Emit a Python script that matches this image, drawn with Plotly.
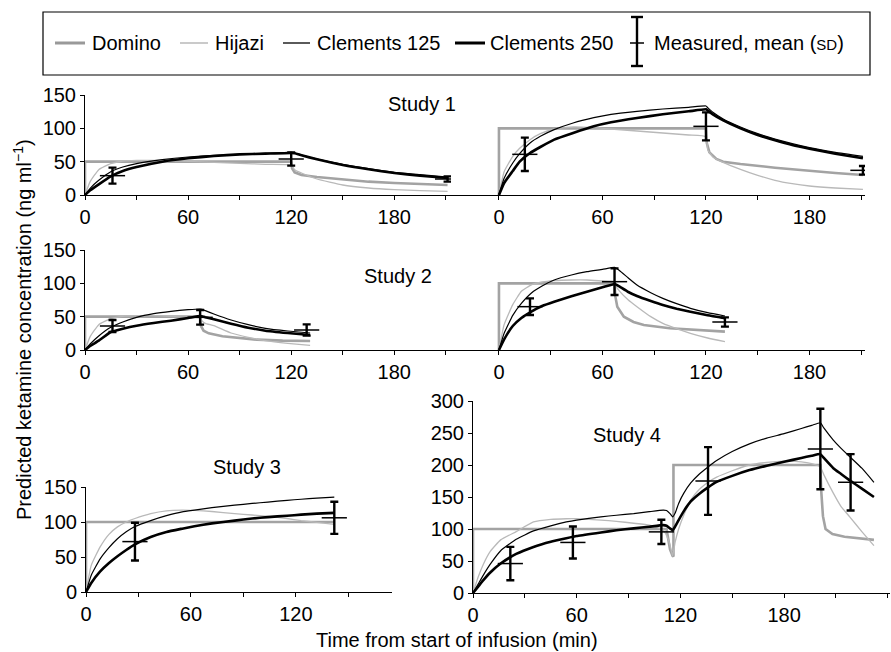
import plotly.graph_objects as go

W, H = 891, 652

# ---------------- Study 1, 50 ng/ml target (left) ----------------
S1L_T = [0, 3, 8, 15, 22, 30, 45, 60, 75, 90, 105, 120, 122, 126, 135, 150, 165, 180, 195, 211]
S1L_HIJ = [0, 20, 38, 47, 51, 52, 52, 50.5, 49, 47.5, 46, 45, 38, 33, 24, 15, 10.5, 8, 6.5, 5.5]
S1L_C125 = [0, 10, 22, 35, 42, 47, 53, 57, 59.5, 61, 62.5, 64, 63, 60, 54, 46, 39.5, 34, 30.5, 27]
S1L_C250 = [0, 7, 16, 28, 36, 42, 50, 55, 58.5, 61, 62, 63, 62.5, 59.5, 53.5, 45, 38.5, 33, 29, 25.5]
S1L_DOM_T = [0, 0, 120, 120.5, 122, 126, 135, 150, 165, 180, 195, 211]
S1L_DOM_V = [0, 50, 50, 40, 34, 30, 27, 23, 20, 18, 16.5, 15]
S1L_MEAS_T = [16, 120, 211]
S1L_MEAS_M = [29, 54, 24]
S1L_MEAS_SD = [12, 10, 4]

# ---------------- Study 1, 100 ng/ml target (right) ----------------
S1R_T = [0, 3, 8, 12, 18, 24, 32, 43, 55, 65, 80, 95, 110, 120, 121, 124, 130, 140, 150, 160, 170, 180, 195, 211]
S1R_HIJ = [0, 35, 58, 70, 83, 92, 99, 102, 101, 99, 96, 93, 90, 87.5, 68, 57, 49, 38.5, 29.5, 22, 17, 13.5, 10.5, 8.5]
S1R_C125 = [0, 25, 48, 62, 78, 88, 98, 108, 116, 121, 125.5, 129, 131.5, 133.5, 131, 124, 114, 102, 92, 84, 77, 71, 64, 58]
S1R_C250 = [0, 18, 36, 50, 63, 72, 83, 93, 103, 109, 115.5, 121, 125.5, 128.5, 127, 121, 112, 100, 90, 82, 75, 69.5, 62, 55]
S1R_DOM_T = [0, 0, 120, 120.5, 122, 126, 130, 140, 160, 180, 195, 211]
S1R_DOM_V = [0, 100, 100, 78, 64, 54, 50, 46.5, 41, 36, 33, 30]
S1R_MEAS_T = [15, 120, 211]
S1R_MEAS_M = [61, 103, 37]
S1R_MEAS_SD = [25, 21, 6.5]

# ---------------- Study 2, 50 ng/ml target (left) ----------------
S2L_T = [0, 3, 8, 15, 22, 30, 40, 50, 60, 67, 68, 70, 75, 85, 95, 105, 118, 131]
S2L_HIJ = [0, 20, 38, 47, 50.5, 51.5, 51.5, 50.5, 49, 48, 44, 40, 36.5, 25.5, 19, 14, 10, 7]
S2L_C125 = [0, 9, 21, 34, 42, 49, 54.5, 58, 60.5, 61.5, 61, 59, 54, 45, 38, 32.5, 28.5, 25.5]
S2L_C250 = [0, 6, 14, 27, 32, 36.5, 40.5, 44, 48, 51, 50.5, 49, 46, 39.5, 33.5, 29, 25.5, 22.5]
S2L_DOM_T = [0, 0, 67, 67.5, 69, 72, 80, 90, 100, 115, 131]
S2L_DOM_V = [0, 50, 50, 36, 29, 25, 20.5, 17.5, 15.5, 14, 13.5]
S2L_MEAS_T = [16, 67, 129]
S2L_MEAS_M = [36, 49, 30]
S2L_MEAS_SD = [9, 11, 8.5]

# ---------------- Study 2, 100 ng/ml target (right) ----------------
S2R_T = [0, 3, 8, 13, 19, 25, 32, 42, 51, 60, 67, 68, 70, 75, 80, 88, 95, 103, 111, 121, 131]
S2R_HIJ = [0, 38, 68, 88, 98, 102, 104, 105, 105, 103.5, 102.5, 95, 88, 75, 65, 50, 40, 32, 25, 18, 12.5]
S2R_C125 = [0, 25, 52, 70, 86, 96, 105, 112.5, 117.5, 121, 124, 122.5, 119, 108, 97.5, 86, 77.5, 69.5, 62.5, 56, 51]
S2R_C250 = [0, 16, 36, 48, 58, 66, 72.5, 80.5, 87.5, 94, 99, 98, 95, 87, 81, 73.5, 67.5, 62, 57.5, 52, 47.5]
S2R_DOM_T = [0, 0, 67, 67.5, 68.6, 72.4, 78, 84, 99, 115, 131]
S2R_DOM_V = [0, 100, 100, 80, 65, 50, 42, 37.5, 32.5, 29.5, 27.5]
S2R_MEAS_T = [18, 67, 131]
S2R_MEAS_M = [65, 102.5, 42]
S2R_MEAS_SD = [12.5, 20, 7]

# ---------------- Study 3 ----------------
S3_T = [0, 3, 8, 13, 18, 23, 28, 37, 46, 55, 62, 72, 85, 95, 104, 115, 123, 132, 142]
S3_HIJ = [0, 38, 64, 82, 93, 100, 105, 112, 116, 117, 116.5, 115, 112, 110, 108, 105, 102, 99.5, 96.5]
S3_C125 = [0, 24, 47, 63, 76, 86, 93.5, 102, 109, 114.5, 117, 120.5, 124, 126.5, 128.5, 131, 132.5, 134, 135.5]
S3_C250 = [0, 13, 29, 41, 51, 60, 68, 78.5, 85.7, 90.5, 94, 98, 102, 105, 107, 109, 110.5, 112, 113]
S3_DOM_T = [0, 0, 142]
S3_DOM_V = [0, 100, 100]
S3_MEAS_T = [28, 142]
S3_MEAS_M = [72, 106]
S3_MEAS_SD = [27, 23]

# ---------------- Study 4 ----------------
S4_T = [0, 3, 6, 10, 16, 25, 35, 45, 54, 60, 74, 83, 93, 102, 110, 112, 114, 115.5, 117, 119, 122, 126, 131,
        136, 141, 150, 160, 170, 180, 190, 196, 201, 203, 208.5, 213, 218, 225, 232]
S4_HIJ = [0, 25, 45, 65, 83, 96, 111, 115, 116, 116, 114, 112, 109, 106, 98.5, 90, 75, 58, 80, 100, 122, 145, 162,
          173, 181, 191, 200, 204, 206, 205, 202, 197, 185, 156, 135, 119, 96, 74]
S4_C125 = [0, 14, 28, 45, 66, 84, 97, 105, 111, 114, 119, 121.5, 124, 127, 129.5, 129, 124, 119, 125, 140, 156, 172, 186,
           197, 207, 221, 233, 242, 249, 257, 262, 266, 258, 239, 226, 213, 195, 173]
S4_C250 = [0, 10, 20, 32, 46, 61, 72, 80, 85.5, 89, 94.5, 98, 101, 103.5, 106, 105, 101, 98, 104, 114, 128, 143, 155,
           165, 173.5, 183, 192, 199, 205, 211, 214.5, 217, 211, 195, 186, 176, 163, 150]
S4_DOM_T = [0, 0, 112, 113, 114, 115.5, 116, 116, 201, 201.5, 202.5, 204, 208, 215, 225, 232]
S4_DOM_V = [0, 100, 100, 85, 68, 58, 57, 200, 200, 160, 120, 100, 92, 88, 85, 83]
S4_MEAS_T = [21.6, 57.8, 109, 136, 201, 218.5]
S4_MEAS_M = [46, 79, 95.5, 175, 225, 173]
S4_MEAS_SD = [26, 25, 19, 53, 63, 44]

SERIES_NAMES = ["Domino", "Hijazi", "Clements 125", "Clements 250", "Measured, mean (SD)"]
STUDY_LABELS = ["Study 1", "Study 2", "Study 3", "Study 4"]
X_TICKS = [0, 60, 120, 180]

DOM_COL, HIJ_COL = "#a3a3a3", "#b9b9b9"
FONT = "Liberation Sans, Arial, Helvetica, sans-serif"
FS = 20

panels = [
    ("", S1L_T, S1L_HIJ, S1L_C125, S1L_C250, S1L_DOM_T, S1L_DOM_V, S1L_MEAS_T, S1L_MEAS_M, S1L_MEAS_SD),
    ("2", S1R_T, S1R_HIJ, S1R_C125, S1R_C250, S1R_DOM_T, S1R_DOM_V, S1R_MEAS_T, S1R_MEAS_M, S1R_MEAS_SD),
    ("3", S2L_T, S2L_HIJ, S2L_C125, S2L_C250, S2L_DOM_T, S2L_DOM_V, S2L_MEAS_T, S2L_MEAS_M, S2L_MEAS_SD),
    ("4", S2R_T, S2R_HIJ, S2R_C125, S2R_C250, S2R_DOM_T, S2R_DOM_V, S2R_MEAS_T, S2R_MEAS_M, S2R_MEAS_SD),
    ("5", S3_T, S3_HIJ, S3_C125, S3_C250, S3_DOM_T, S3_DOM_V, S3_MEAS_T, S3_MEAS_M, S3_MEAS_SD),
    ("6", S4_T, S4_HIJ, S4_C125, S4_C250, S4_DOM_T, S4_DOM_V, S4_MEAS_T, S4_MEAS_M, S4_MEAS_SD),
]

fig = go.Figure()
for suf, T, HIJ, C125, C250, DT, DV, MT, MM, MSD in panels:
    xa, ya = "x" + suf, "y" + suf
    fig.add_trace(go.Scatter(x=DT, y=DV, mode="lines", xaxis=xa, yaxis=ya, name=SERIES_NAMES[0],
                             line=dict(color=DOM_COL, width=2.6), showlegend=False))
    fig.add_trace(go.Scatter(x=T, y=HIJ, mode="lines", xaxis=xa, yaxis=ya, name=SERIES_NAMES[1],
                             line=dict(color=HIJ_COL, width=1.3, shape="spline", smoothing=0.4), showlegend=False))
    fig.add_trace(go.Scatter(x=T, y=C125, mode="lines", xaxis=xa, yaxis=ya, name=SERIES_NAMES[2],
                             line=dict(color="black", width=1.2, shape="spline", smoothing=0.4), showlegend=False))
    fig.add_trace(go.Scatter(x=T, y=C250, mode="lines", xaxis=xa, yaxis=ya, name=SERIES_NAMES[3],
                             line=dict(color="black", width=2.6, shape="spline", smoothing=0.4), showlegend=False))
    fig.add_trace(go.Scatter(x=MT, y=MM, mode="markers", xaxis=xa, yaxis=ya, name=SERIES_NAMES[4],
                             marker=dict(symbol="line-ew", size=18, color="black",
                                         line=dict(color="black", width=1.5)),
                             error_y=dict(type="data", array=MSD, visible=True, color="black",
                                          thickness=2.4, width=4),
                             showlegend=False))


def px_x(X):
    return X / W


def px_y(Y):
    return 1 - Y / H


axis_font = dict(family=FONT, size=FS, color="black")
common_x = dict(showline=True, linecolor="black", linewidth=1, ticks="outside", ticklen=4, tickwidth=1,
                tickcolor="black", tickmode="array", tickvals=X_TICKS, showgrid=False, zeroline=False,
                minor=dict(tick0=0, dtick=30, ticks="outside", ticklen=4, tickwidth=1, tickcolor="black",
                           showgrid=False),
                tickfont=axis_font, fixedrange=True, automargin=False)
yl = dict(showline=True, linecolor="black", linewidth=1, ticks="outside", ticklen=4, tickwidth=1,
          tickcolor="black", showgrid=False, zeroline=False, tickfont=axis_font, fixedrange=True, automargin=False)
yr = dict(showline=False, ticks="", showticklabels=False, showgrid=False, zeroline=False, fixedrange=True,
          automargin=False)

R1 = [px_y(195), px_y(95)]
R2 = [px_y(350), px_y(250)]
XL = [px_x(85), px_x(451)]
XR = [px_x(451), px_x(865)]

fig.update_layout(
    width=W, height=H, margin=dict(l=0, r=0, t=0, b=0, autoexpand=False),
    paper_bgcolor="white", plot_bgcolor="rgba(0,0,0,0)", showlegend=False,
    font=dict(family=FONT, size=FS, color="black"),
    xaxis=dict(domain=XL, range=[0, 213], anchor="y", **common_x),
    yaxis=dict(domain=R1, range=[0, 150], tickvals=[0, 50, 100, 150], anchor="x", **yl),
    xaxis2=dict(domain=XR, range=[-27.8, 212.2], anchor="y2", **common_x),
    yaxis2=dict(domain=R1, range=[0, 150], anchor="x2", **yr),
    xaxis3=dict(domain=XL, range=[0, 213], anchor="y3", **common_x),
    yaxis3=dict(domain=R2, range=[0, 150], tickvals=[0, 50, 100, 150], anchor="x3", **yl),
    xaxis4=dict(domain=XR, range=[-27.8, 212.2], anchor="y4", **common_x),
    yaxis4=dict(domain=R2, range=[0, 150], anchor="x4", **yr),
    xaxis5=dict(domain=[px_x(86), px_x(392)], range=[0, 175], anchor="y5", **common_x),
    yaxis5=dict(domain=[px_y(592), px_y(487)], range=[0, 150], tickvals=[0, 50, 100, 150], anchor="x5", **yl),
    xaxis6=dict(domain=[px_x(473), px_x(890)], range=[0, 241.3], anchor="y6", **common_x),
    yaxis6=dict(domain=[px_y(593), px_y(401)], range=[0, 300], tickvals=[0, 50, 100, 150, 200, 250, 300],
                anchor="x6", **yl),
)

ann = []
for label, (X, Y) in zip(STUDY_LABELS, [(422, 104), (398, 276), (247, 467), (627, 435)]):
    ann.append(dict(text=label, x=px_x(X), y=px_y(Y), xref="paper", yref="paper", showarrow=False,
                    xanchor="center", yanchor="middle", font=dict(family=FONT, size=FS, color="black")))
ann.append(dict(text="Predicted ketamine concentration (ng ml<sup>\u22121</sup>)", x=px_x(22), y=px_y(330),
                xref="paper", yref="paper", showarrow=False, textangle=-90, xanchor="center", yanchor="middle",
                font=dict(family=FONT, size=FS, color="black")))
ann.append(dict(text="Time from start of infusion (min)", x=px_x(457), y=px_y(640), xref="paper", yref="paper",
                showarrow=False, xanchor="center", yanchor="middle", font=dict(family=FONT, size=FS, color="black")))

shapes = [dict(type="rect", xref="paper", yref="paper", x0=px_x(43), x1=px_x(870), y0=px_y(75), y1=px_y(12),
               line=dict(color="black", width=1.2), fillcolor="rgba(0,0,0,0)")]
LY = 43
leg_items = [
    (55, 85, 90, "#999999", 3),
    (180, 208, 213, HIJ_COL, 1.5),
    (283, 310, 315, "black", 1.3),
    (455, 485, 488, "black", 3),
]
for (x0, x1, tx, col, wdt), name in zip(leg_items, SERIES_NAMES[:4]):
    shapes.append(dict(type="line", xref="paper", yref="paper", x0=px_x(x0), x1=px_x(x1), y0=px_y(LY), y1=px_y(LY),
                       line=dict(color=col, width=wdt)))
    ann.append(dict(text=name, x=px_x(tx), y=px_y(LY), xref="paper", yref="paper", showarrow=False,
                    xanchor="left", yanchor="middle", font=dict(family=FONT, size=FS, color="black")))
MX = 637
for (a, b, c, d, wd) in [(MX, 17, MX, 66, 2.4), (MX - 6, 17, MX + 6, 17, 2.4), (MX - 6, 66, MX + 6, 66, 2.4),
                         (MX - 7, LY, MX + 7, LY, 1.5)]:
    shapes.append(dict(type="line", xref="paper", yref="paper", x0=px_x(a), x1=px_x(c), y0=px_y(b), y1=px_y(d),
                       line=dict(color="black", width=wd)))
ann.append(dict(text="Measured, mean (<span style='font-size:15px'>SD</span>)", x=px_x(652), y=px_y(LY),
                xref="paper", yref="paper", showarrow=False, xanchor="left", yanchor="middle",
                font=dict(family=FONT, size=FS, color="black")))

fig.update_layout(annotations=ann, shapes=shapes)
fig.write_html("out.html", config={"displayModeBar": False, "staticPlot": True},
               post_script="document.body.style.margin='0';document.body.style.overflow='hidden';")
